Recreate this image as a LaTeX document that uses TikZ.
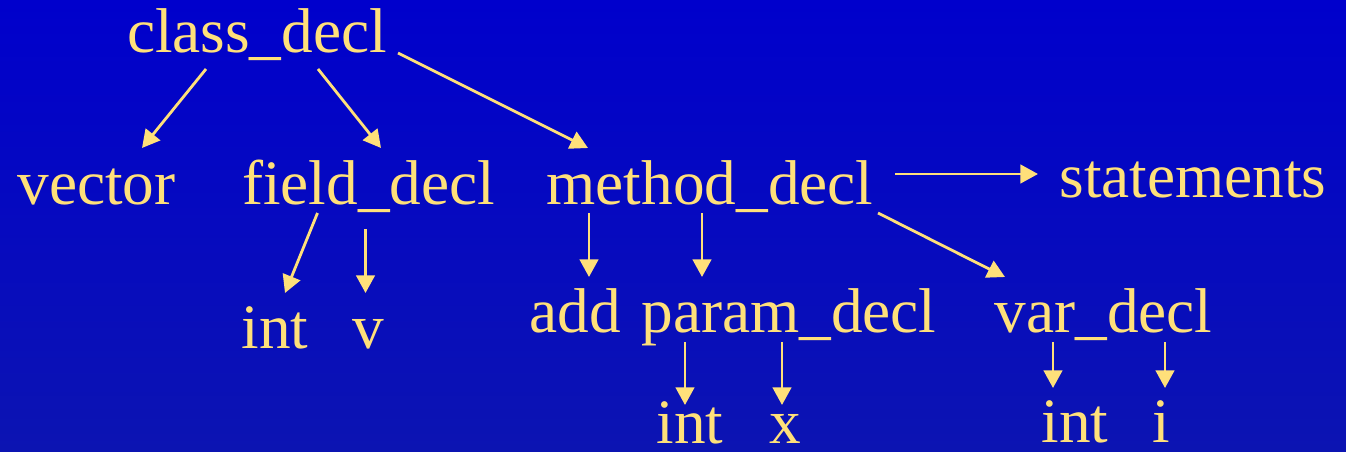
\documentclass[tikz,border=0pt]{standalone}
\usepackage{fontspec}
\setmainfont{Liberation Serif}
\usetikzlibrary{arrows.meta,calc}
\definecolor{slideblue}{RGB}{0,0,204}
\definecolor{slidedeep}{RGB}{12,20,178}
\definecolor{treegold}{RGB}{255,224,122}

\begin{document}
\begin{tikzpicture}[
        x=0.02cm, y=-0.02cm,
        term/.style={
            inner sep=0pt,
            anchor=base,
            text=treegold,
            font=\fontsize{36}{40}\selectfont
        },
        arrow/.style={-{Triangle[length=10pt,width=10.5pt]}, draw=treegold, line width=1.6pt}
    ]

    % =========================
    % Background
    % =========================
    \shade[top color=slideblue, bottom color=slidedeep] (0,0) rectangle (1346,452);

    % =========================
    % Root and first level
    % =========================
    \node[term] (class)  at (257,53)   {class\_decl};
    \node[term] (vector) at (96.5,205) {vector};
    \node[term] (field)  at (368.5,205) {field\_decl};
    \node[term] (method) at (710,205)  {method\_decl};
    \node[term] (stmts)  at (1193,198) {statements};

    \draw[arrow] ($(class.base)+(-51,16)$) -- ($(vector.base)+(45.5,-57)$);
    \draw[arrow] ($(class.base)+(61,16)$)  -- ($(field.base)+(12.5,-57)$);
    \draw[arrow] ($(class.base)+(141,0)$)  -- ($(method.base)+(-122,-57)$);
    \draw[arrow] ($(method.base)+(185,-31)$) -- ($(stmts.base)+(-155,-24)$);

    % =========================
    % Field declaration
    % =========================
    \node[term] (fint) at (275,349)   {int};
    \node[term] (fv)   at (368.5,349) {v};

    \draw[arrow] ($(field.base)+(-51,8)$) -- ($(fint.base)+(10,-56)$);
    \draw[arrow] ($(field.base)+(-3,24)$) -- ($(fv.base)+(-3,-56)$);

    % =========================
    % Method declaration
    % =========================
    \node[term] (add)   at (575,333)    {add};
    \node[term] (param) at (789,333)    {param\_decl};
    \node[term] (var)   at (1103.5,333) {var\_decl};

    \draw[arrow] ($(method.base)+(-121,8)$) -- ($(add.base)+(14,-56)$);
    \draw[arrow] ($(method.base)+(-8,8)$)   -- ($(param.base)+(-87,-56)$);
    \draw[arrow] ($(method.base)+(168,8)$)  -- ($(var.base)+(-98.5,-56)$);

    % =========================
    % Parameter and variable
    % =========================
    \node[term] (pint) at (690,444)    {int};
    \node[term] (px)   at (785,444)    {x};
    \node[term] (vint) at (1075,443)   {int};
    \node[term] (vi)   at (1161.5,443) {i};

    \draw[arrow] ($(param.base)+(-104,9)$) -- ($(pint.base)+(-5,-39)$);
    \draw[arrow] ($(param.base)+(-7,9)$)   -- ($(px.base)+(-3,-39)$);
    \draw[arrow] ($(var.base)+(-50.5,9)$)  -- ($(vint.base)+(-22,-55)$);
    \draw[arrow] ($(var.base)+(61.5,9)$)   -- ($(vi.base)+(3.5,-55)$);

\end{tikzpicture}
\end{document}
